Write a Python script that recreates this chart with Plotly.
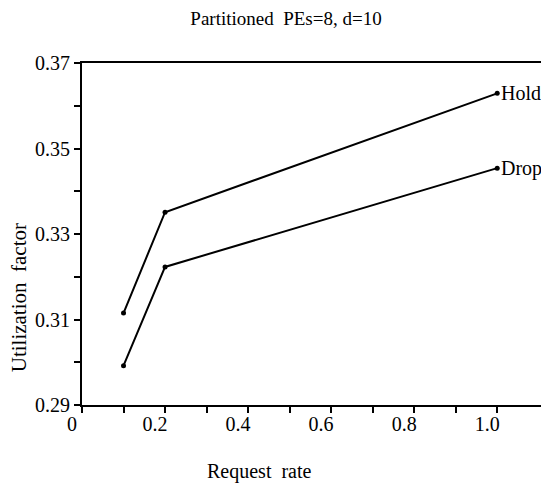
import plotly.graph_objects as go

request_rate = [0.1, 0.2, 1.0]
hold_util = [0.3115, 0.3351, 0.3629]
drop_util = [0.2992, 0.3223, 0.3454]
series_names = ["Hold", "Drop"]

x_tick_vals = [0, 0.2, 0.4, 0.6, 0.8, 1.0]
x_tick_text = ["0", "0.2", "0.4", "0.6", "0.8", "1.0"]
x_minor_vals = [0.1, 0.3, 0.5, 0.7, 0.9]
y_tick_vals = [0.29, 0.31, 0.33, 0.35, 0.37]
y_tick_text = ["0.29", "0.31", "0.33", "0.35", "0.37"]
y_minor_vals = [0.30, 0.32, 0.34, 0.36]

FONT = "Liberation Serif"
OFF = 8  # default page body margin
W, H = 549 - OFF, 488 - OFF
L, R, T, B = 82 - OFF, 2, 63 - OFF, 83

fig = go.Figure()
for name, vals in zip(series_names, [hold_util, drop_util]):
    fig.add_trace(go.Scatter(
        x=request_rate, y=vals, mode="lines+markers", name=name,
        line=dict(color="black", width=2),
        marker=dict(color="black", size=5),
        showlegend=False,
    ))
    fig.add_annotation(
        x=request_rate[-1], y=vals[-1], xref="x", yref="y",
        text=name, showarrow=False, xanchor="left", yanchor="middle",
        xshift=2, font=dict(family=FONT, size=20, color="black"),
    )

axis_common = dict(
    showgrid=False, zeroline=False, showline=True, linecolor="black",
    linewidth=2, mirror=True, ticks="outside", ticklen=6, tickwidth=2,
    tickcolor="black", tickfont=dict(family=FONT, size=20, color="black"),
)

fig.update_xaxes(
    range=[0, (W - L - R) / 417.0], tickmode="array",
    tickvals=x_tick_vals, ticktext=x_tick_text, ticklabelshift=-10,
    ticklabelstandoff=-6,
    minor=dict(tickmode="array", tickvals=x_minor_vals, ticks="outside",
               ticklen=6, tickwidth=2, tickcolor="black"),
    **axis_common,
)
fig.update_yaxes(
    range=[0.29, 0.37], tickmode="array",
    tickvals=y_tick_vals, ticktext=y_tick_text,
    minor=dict(tickmode="array", tickvals=y_minor_vals, ticks="outside",
               ticklen=6, tickwidth=2, tickcolor="black"),
    **axis_common,
)

pw = W - L - R
ph = H - T - B
fig.add_annotation(
    x=(260 - 82) / pw, y=(405 - 471) / ph, xref="paper", yref="paper",
    text="Request  rate", showarrow=False, xanchor="center", yanchor="middle",
    font=dict(family=FONT, size=20, color="black"),
)
fig.add_annotation(
    x=(19 - 82) / pw, y=(405 - 298) / ph, xref="paper", yref="paper",
    text="Utilization  factor", showarrow=False, textangle=-90,
    xanchor="center", yanchor="middle",
    font=dict(family=FONT, size=21, color="black"),
)

fig.update_layout(
    width=W, height=H,
    margin=dict(l=L, r=R, t=T, b=B),
    paper_bgcolor="white", plot_bgcolor="white",
    title=dict(text="Partitioned  PEs=8, d=10", x=(286 - OFF) / W,
               xanchor="center", y=1 - 4 / H, yanchor="top",
               pad=dict(t=0, b=0, l=0, r=0),
               font=dict(family=FONT, size=19, color="black")),
)

fig.write_html("out.html")
